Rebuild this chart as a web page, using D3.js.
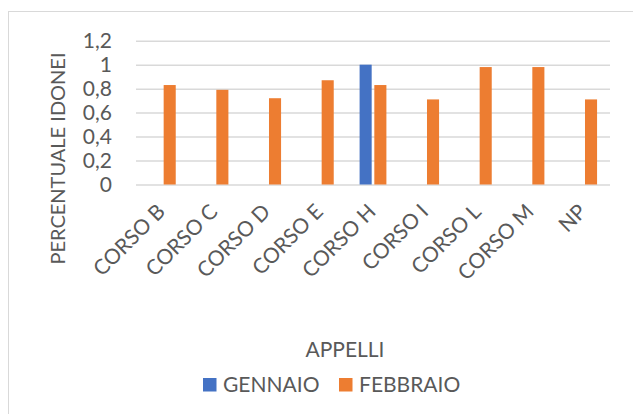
<!DOCTYPE html>
<html>
<head>
<meta charset="utf-8">
<script src="https://cdnjs.cloudflare.com/ajax/libs/d3/7.8.5/d3.min.js"></script>
<style>
	body { margin: 0; background: #fff; }
	svg text { font-family: Lato, "Open Sans", sans-serif; fill: #595959; }
</style>
</head>
<body>
<svg id="chart" width="633" height="414"></svg>
<script>
var categories = ["CORSO B", "CORSO C", "CORSO D", "CORSO E", "CORSO H", "CORSO I", "CORSO L", "CORSO M", "NP"];
var seriesNames = ["GENNAIO", "FEBBRAIO"];
var gennaio = [null, null, null, null, 1, null, null, null, null];
var febbraio = [0.83, 0.79, 0.72, 0.87, 0.83, 0.71, 0.98, 0.98, 0.71];
var yTicks = [0, 0.2, 0.4, 0.6, 0.8, 1, 1.2];
var colors = ["#4472C4", "#ED7D31"];

var svg = d3.select("#chart");

// chart frame
svg.append("rect")
	.attr("x", 8.5)
	.attr("y", 11.5)
	.attr("width", 700)
	.attr("height", 420)
	.style("fill", "none")
	.style("stroke", "#d9d9d9");

var plotLeft = 136, plotRight = 610, plotTop = 40.7, plotBottom = 184.5;

var x = d3.scaleBand()
	.domain(categories)
	.range([plotLeft, plotRight]);

var y = d3.scaleLinear()
	.domain([0, 1.2])
	.range([plotBottom, plotTop]);

// inner band for the two months
var half = x.bandwidth() / 2;
var x1 = d3.scaleBand()
	.domain(seriesNames)
	.range([half - 13.4, half + 13.4])
	.paddingInner(0.18);

function fmt(v){
	return String(v).replace(".", ",");
}

// gridlines + tick labels
var yAxis = svg.append("g")
	.attr("transform", "translate(" + plotLeft + ",0)")
	.call(d3.axisLeft(y)
		.tickValues(yTicks)
		.tickSize(-(plotRight - plotLeft))
		.tickPadding(24)
		.tickFormat(fmt));
yAxis.select(".domain").remove();
yAxis.selectAll("line")
	.style("stroke", "#d9d9d9")
	.style("stroke-width", 1.5);
yAxis.selectAll("text")
	.style("font-size", "21px")
	.style("font-family", "Lato, sans-serif")
	.style("fill", "#595959");

// bars
var rows = [];
categories.forEach(function(c, i){
	var vals = [gennaio[i], febbraio[i]];
	seriesNames.forEach(function(s, j){
		if (vals[j] != null)
			rows.push({"cat": c, "series": s, "value": vals[j], "color": colors[j]});
	});
});

svg.selectAll(".bar")
	.data(rows)
	.enter()
	.append("rect")
	.classed("bar", true)
	.attr("x", function(d){ return x(d.cat) + x1(d.series); })
	.attr("width", x1.bandwidth())
	.attr("y", function(d){ return y(d.value); })
	.attr("height", function(d){ return y(0) - y(d.value); })
	.style("fill", function(d){ return d.color; });

// category labels, rotated
svg.selectAll(".cat-label")
	.data(categories)
	.enter()
	.append("text")
	.classed("cat-label", true)
	.attr("text-anchor", "end")
	.attr("transform", function(d){
		return "translate(" + (x(d) + half + 4) + ",213) rotate(-45)";
	})
	.style("font-size", "21px")
	.text(function(d){ return d; });

// axis titles
svg.append("text")
	.attr("text-anchor", "middle")
	.attr("transform", "translate(65,158.5) rotate(-90)")
	.style("font-size", "20px")
	.text("PERCENTUALE IDONEI");

svg.append("text")
	.attr("text-anchor", "middle")
	.attr("x", 345)
	.attr("y", 356.7)
	.style("font-size", "21px")
	.text("APPELLI");

// legend
var legendX = [203, 339];
var legend = svg.selectAll(".legend-item")
	.data(seriesNames)
	.enter()
	.append("g")
	.classed("legend-item", true)
	.attr("transform", function(d, i){ return "translate(" + legendX[i] + ",378)"; });
legend.append("rect")
	.attr("width", 13.5)
	.attr("height", 13.5)
	.style("fill", function(d, i){ return colors[i]; });
legend.append("text")
	.attr("x", 20)
	.attr("y", 13.7)
	.style("font-size", "21px")
	.text(function(d){ return d; });
</script>
</body>
</html>
